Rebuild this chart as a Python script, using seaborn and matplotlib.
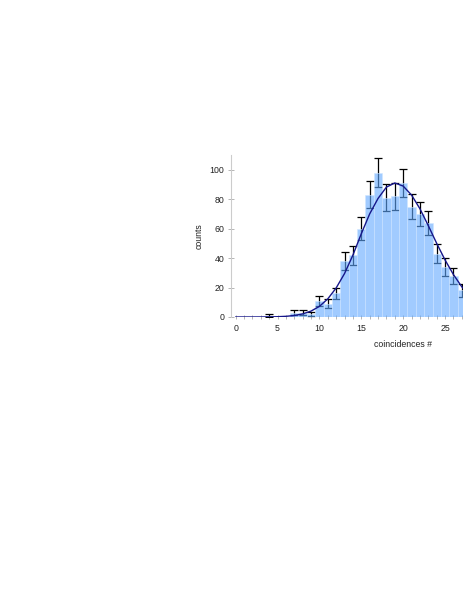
import numpy as np
import pandas as pd
import matplotlib
matplotlib.use("Agg")
import matplotlib.pyplot as plt
import seaborn as sns

# Histogram bins (coincidence count) and bin contents
bins = [0, 1, 2, 3, 4, 5, 6, 7, 8, 9, 10, 11, 12, 13, 14, 15, 16, 17, 18, 19,
        20, 21, 22, 23, 24, 25, 26, 27, 28]
counts = [0, 0, 0, 0, 1, 0, 0, 3, 3, 2, 11, 9, 16, 38, 42, 60, 83, 98, 81, 82,
          91, 75, 70, 64, 43, 34, 28, 18, 12]

# Fit curve
fit_x = [0, 1, 2, 3, 4, 5, 6, 7, 8, 9, 10, 11, 12, 13, 14, 15, 16, 17, 18, 19,
         20, 21, 22, 23, 24, 25, 26, 27, 28]
fit_y = [0, 0, 0, 0.03, 0.08, 0.2, 0.46, 1.0, 2.1, 4.0, 7.2, 12.3, 19.7, 29.5,
         42.0, 56.5, 70.0, 80.5, 88.2, 91.0, 88.9, 82.8, 73.5, 62.0, 50.0,
         38.7, 28.8, 20.5, 14.0]

x_ticks = [0, 5, 10, 15, 20, 25]
x_minor = [0, 1, 2, 3, 4, 5, 6, 7, 8, 9, 10, 11, 12, 13, 14, 15, 16, 17, 18,
           19, 20, 21, 22, 23, 24, 25, 26, 27]
y_ticks = [0, 20, 40, 60, 80, 100]

df = pd.DataFrame({"bin": bins, "count": counts})

sns.set_style("white")
plt.rcParams["font.family"] = ["Liberation Sans", "DejaVu Sans"]

fig = plt.figure(figsize=(4.63, 5.99), dpi=100)
ax = fig.add_axes([231 / 463, (599 - 317) / 599, (463 - 231) / 463, 162 / 599])

# error bars first (bars drawn semi-transparent on top)
nz = df[df["count"] > 0]
ax.errorbar(nz["bin"], nz["count"], yerr=np.sqrt(nz["count"]), fmt="none",
            ecolor="black", elinewidth=0.9, capsize=2.6, capthick=0.9, zorder=1)

sns.histplot(data=df, x="bin", weights="count", discrete=True, ax=ax,
             color="#62a9ff", alpha=0.6, edgecolor="#cfe5ff", linewidth=0.4,
             zorder=2)

sns.lineplot(x=fit_x, y=fit_y, ax=ax, color="#16168a", linewidth=1.0, zorder=3)

ax.set_xticks(x_ticks)
ax.set_xticks(x_minor, minor=True)
ax.set_yticks(y_ticks)
ax.set_xlim(-0.55, 27.14)
ax.set_ylim(0, 110)

for s in ["top", "right", "bottom"]:
    ax.spines[s].set_visible(False)
ax.spines["left"].set_color("#cccccc")
ax.spines["left"].set_linewidth(0.8)

ax.tick_params(axis="x", which="both", direction="inout", length=3.5,
               width=0.6, color="#aaaaaa", labelsize=6.3, pad=3,
               bottom=True, labelcolor="#222222")
ax.tick_params(axis="y", which="major", direction="inout", length=4.5,
               width=0.6, color="#aaaaaa", labelsize=6.3, pad=2.5,
               left=True, labelcolor="#222222")

ax.set_xlabel("coincidences #", fontsize=6.3, color="#222222")
ax.set_ylabel("counts", fontsize=6.3, color="#222222")
ax.xaxis.set_label_coords((403 - 231) / 232, -0.145)
ax.yaxis.set_label_coords(-0.12, 0.5)

fig.savefig("out.png", dpi=100, facecolor="white")
